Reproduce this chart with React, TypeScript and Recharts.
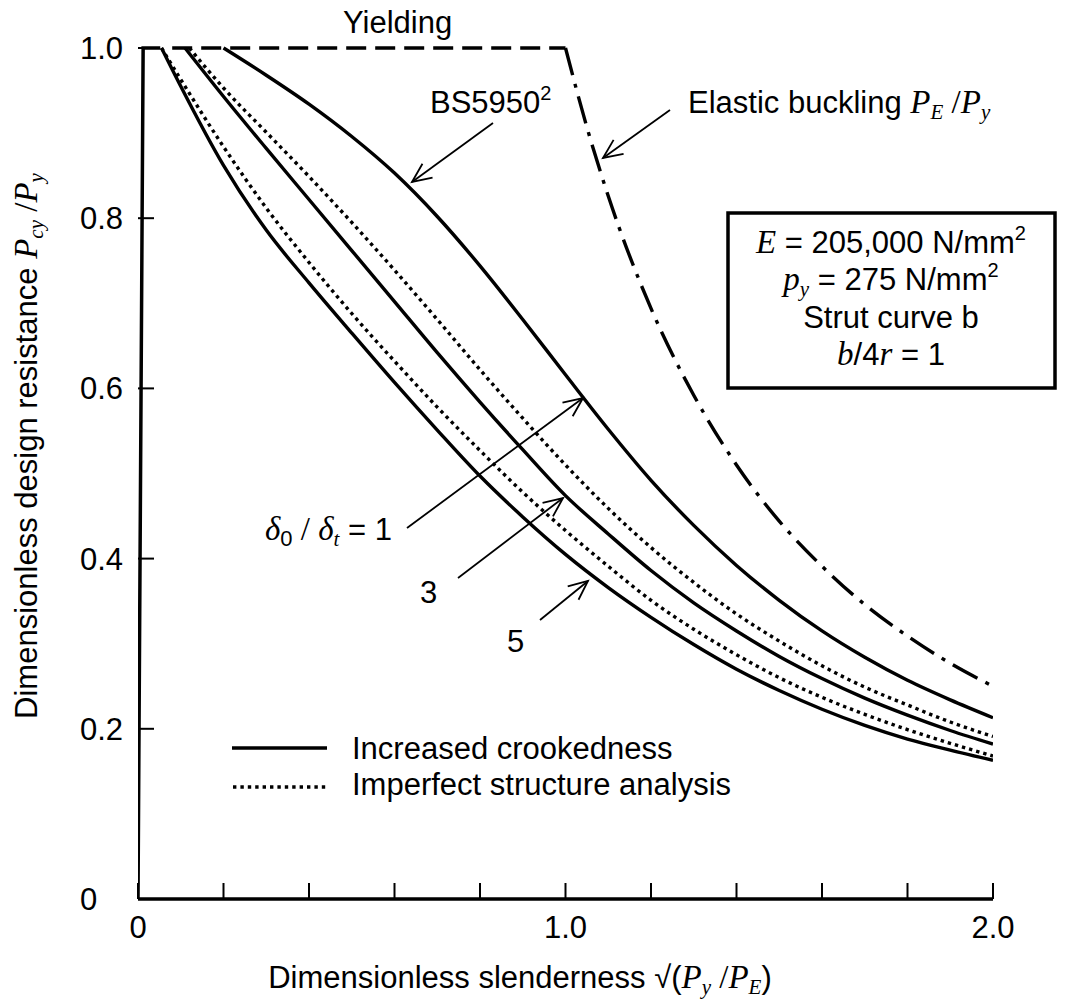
import React from 'react';
import { LineChart, Line, XAxis, YAxis } from 'recharts';

// axis ticks
const xTicks = [0, 0.2, 0.4, 0.6, 0.8, 1.0, 1.2, 1.4, 1.6, 1.8, 2.0];
const xTickLabels: Record<number, string> = { 0: '0', 10: '1.0', 20: '2.0' };
const yTicks = [0, 0.2, 0.4, 0.6, 0.8, 1.0];
const yTickLabels = ['0', '0.2', '0.4', '0.6', '0.8', '1.0'];

// [slenderness, Pcy/Py]
const squashLine = [[0, 0], [0.012, 1.0], [0.052, 1.0]];
const yielding = [[0.08, 1.0], [1.0, 1.0]];
const elasticBuckling = [
  [1.0, 1.0], [1.05, 0.907], [1.1, 0.826], [1.2, 0.694], [1.3, 0.592], [1.4, 0.51],
  [1.5, 0.444], [1.6, 0.391], [1.7, 0.346], [1.8, 0.309], [1.9, 0.277], [2.0, 0.25],
];
const bs5950 = [
  [0.2, 1.0], [0.3, 0.968], [0.4, 0.934], [0.5, 0.896], [0.6, 0.853], [0.7, 0.802],
  [0.8, 0.744], [0.9, 0.681], [1.0, 0.616], [1.1, 0.552], [1.2, 0.492], [1.3, 0.439],
  [1.4, 0.392], [1.5, 0.351], [1.6, 0.315], [1.7, 0.284], [1.8, 0.257], [1.9, 0.234], [2.0, 0.213],
];
const crooked3 = [
  [0.11, 1.0], [0.2, 0.943], [0.3, 0.882], [0.4, 0.822], [0.5, 0.762], [0.6, 0.702],
  [0.7, 0.642], [0.8, 0.584], [0.9, 0.528], [1.0, 0.474], [1.1, 0.429], [1.2, 0.386],
  [1.3, 0.348], [1.4, 0.315], [1.5, 0.285], [1.6, 0.259], [1.7, 0.236], [1.8, 0.216],
  [1.9, 0.198], [2.0, 0.182],
];
const imperfect3 = [
  [0.12, 1.0], [0.2, 0.953], [0.3, 0.901], [0.4, 0.849], [0.5, 0.795], [0.6, 0.739],
  [0.7, 0.681], [0.8, 0.622], [0.9, 0.565], [1.0, 0.51], [1.1, 0.459], [1.2, 0.413],
  [1.3, 0.372], [1.4, 0.335], [1.5, 0.303], [1.6, 0.274], [1.7, 0.249], [1.8, 0.228],
  [1.9, 0.208], [2.0, 0.191],
];
const crooked5 = [
  [0.055, 1.0], [0.1, 0.955], [0.2, 0.862], [0.3, 0.786], [0.4, 0.724], [0.5, 0.665],
  [0.6, 0.607], [0.7, 0.551], [0.8, 0.497], [0.9, 0.449], [1.0, 0.405], [1.1, 0.366],
  [1.2, 0.331], [1.3, 0.299], [1.4, 0.27], [1.5, 0.245], [1.6, 0.223], [1.7, 0.204],
  [1.8, 0.188], [1.9, 0.175], [2.0, 0.163],
];
const imperfect5 = [
  [0.055, 1.0], [0.1, 0.963], [0.2, 0.884], [0.3, 0.812], [0.4, 0.748], [0.5, 0.688],
  [0.6, 0.632], [0.7, 0.578], [0.8, 0.527], [0.9, 0.478], [1.0, 0.433], [1.1, 0.391],
  [1.2, 0.351], [1.3, 0.317], [1.4, 0.287], [1.5, 0.26], [1.6, 0.237], [1.7, 0.217],
  [1.8, 0.199], [1.9, 0.183], [2.0, 0.168],
];

const toPoints = (pairs: number[][]) => pairs.map(([x, y]) => ({ x, y }));

const SANS = '"Liberation Sans", Arial, sans-serif';
const SERIF = '"Liberation Serif", "Times New Roman", serif';
const FS = 31;

const XTick = (props: any) => {
  const { x, payload } = props;
  const label = xTickLabels[Math.round(payload.value * 10)];
  if (!label) return null;
  return (
    <text x={x} y={938} textAnchor="middle" fontFamily={SANS} fontSize={FS} fill="#000">
      {label}
    </text>
  );
};

const YTick = (props: any) => {
  const { y, index } = props;
  return (
    <text x={80} y={y + 11} textAnchor="start" fontFamily={SANS} fontSize={FS} fill="#000">
      {yTickLabels[index]}
    </text>
  );
};

function Arrow({ from, to }: { from: [number, number]; to: [number, number] }) {
  const a = Math.atan2(to[1] - from[1], to[0] - from[0]);
  const L = 21;
  const s = 0.42;
  const p1 = [to[0] - L * Math.cos(a - s), to[1] - L * Math.sin(a - s)];
  const p2 = [to[0] - L * Math.cos(a + s), to[1] - L * Math.sin(a + s)];
  return (
    <g stroke="#000" strokeWidth={1.8} fill="none">
      <line x1={from[0]} y1={from[1]} x2={to[0]} y2={to[1]} />
      <polyline points={`${p1[0]},${p1[1]} ${to[0]},${to[1]} ${p2[0]},${p2[1]}`} />
    </g>
  );
}

const it = { fontFamily: SERIF, fontStyle: 'italic' as const };

function Annotations() {
  return (
    <svg
      width={1067}
      height={1000}
      style={{ position: 'absolute', left: 0, top: 0, pointerEvents: 'none' }}
    >
      <g fontFamily={SANS} fontSize={FS} fill="#000">
        <text x={343} y={33}>Yielding</text>
        <text x={430} y={113}>
          BS5950<tspan fontSize={20} dy={-13}>2</tspan>
        </text>
        <text x={688} y={113}>
          Elastic buckling <tspan {...it} fontSize={33}>P</tspan>
          <tspan {...it} fontSize={21} dy={6}>E</tspan>
          <tspan fontFamily={SERIF} fontSize={33} dy={-6}> /</tspan>
          <tspan {...it} fontSize={33}>P</tspan>
          <tspan {...it} fontSize={21} dy={6}>y</tspan>
        </text>

        <rect x={728} y={213} width={327} height={175} fill="none" stroke="#000" strokeWidth={3.5} />
        <text x={891} y={253} textAnchor="middle">
          <tspan {...it} fontSize={33}>E</tspan> = 205,000 N/mm<tspan fontSize={20} dy={-13}>2</tspan>
        </text>
        <text x={891} y={290} textAnchor="middle">
          <tspan {...it} fontSize={33}>p</tspan>
          <tspan {...it} fontSize={21} dy={6}>y</tspan>
          <tspan dy={-6}> = 275 N/mm</tspan>
          <tspan fontSize={20} dy={-13}>2</tspan>
        </text>
        <text x={891} y={328} textAnchor="middle">Strut curve b</text>
        <text x={891} y={365} textAnchor="middle">
          <tspan {...it} fontSize={33}>b</tspan>/4<tspan {...it} fontSize={33}>r</tspan> = 1
        </text>

        <text x={265} y={540}>
          <tspan {...it} fontSize={33}>δ</tspan>
          <tspan fontSize={22} dy={6}>0</tspan>
          <tspan fontFamily={SERIF} fontSize={33} dy={-6}> / </tspan>
          <tspan {...it} fontSize={33}>δ</tspan>
          <tspan {...it} fontSize={21} dy={6}>t</tspan>
          <tspan dy={-6}> = 1</tspan>
        </text>
        <text x={420} y={603}>3</text>
        <text x={507} y={652}>5</text>

        <line x1={232} y1={748} x2={327} y2={748} stroke="#000" strokeWidth={3.5} />
        <text x={352} y={759}>Increased crookedness</text>
        <line x1={233} y1={787} x2={328} y2={787} stroke="#000" strokeWidth={3.4} strokeDasharray="3.4 4" />
        <text x={352} y={795}>Imperfect structure analysis</text>

        <text x={520} y={988} textAnchor="middle">
          Dimensionless slenderness √(<tspan {...it} fontSize={33}>P</tspan>
          <tspan {...it} fontSize={21} dy={6}>y</tspan>
          <tspan fontFamily={SERIF} fontSize={33} dy={-6}> /</tspan>
          <tspan {...it} fontSize={33}>P</tspan>
          <tspan {...it} fontSize={21} dy={6}>E</tspan>
          <tspan dy={-6}>)</tspan>
        </text>

        <text transform="rotate(-90)" x={-446} y={37} textAnchor="middle">
          Dimensionless design resistance <tspan {...it} fontSize={33}>P</tspan>
          <tspan {...it} fontSize={21} dy={6}>cy</tspan>
          <tspan fontFamily={SERIF} fontSize={33} dy={-6}> /</tspan>
          <tspan {...it} fontSize={33}>P</tspan>
          <tspan {...it} fontSize={21} dy={6}>y</tspan>
        </text>
      </g>

      <Arrow from={[493, 123]} to={[412, 182]} />
      <Arrow from={[670, 110]} to={[603, 158]} />
      <Arrow from={[407, 528]} to={[583, 398]} />
      <Arrow from={[458, 578]} to={[563, 498]} />
      <Arrow from={[540, 620]} to={[588, 581]} />
    </svg>
  );
}

const solid = { stroke: '#000', strokeWidth: 3.4, dot: false, activeDot: false, isAnimationActive: false } as const;

export default function App() {
  return (
    <div style={{ position: 'absolute', left: 0, top: 0, width: 1067, height: 1000, background: '#fff' }}>
      <LineChart width={1067} height={1000} margin={{ top: 48, right: 74, bottom: 71, left: 88 }}>
        <XAxis
          type="number"
          dataKey="x"
          domain={[0, 2]}
          ticks={xTicks}
          height={30}
          tickSize={-16}
          axisLine={{ stroke: '#000', strokeWidth: 3.5 }}
          tickLine={{ stroke: '#000', strokeWidth: 2 }}
          tick={<XTick />}
          interval={0}
          allowDataOverflow
        />
        <YAxis
          type="number"
          domain={[0, 1]}
          ticks={yTicks}
          width={50}
          tickSize={-16}
          axisLine={false}
          tickLine={{ stroke: '#000', strokeWidth: 2 }}
          tick={<YTick />}
          interval={0}
        />
        <Line data={toPoints(squashLine)} dataKey="y" type="linear" {...solid} strokeWidth={3.5} />
        <Line data={toPoints(yielding)} dataKey="y" type="linear" {...solid} strokeDasharray="20 9" />
        <Line data={toPoints(elasticBuckling)} dataKey="y" type="monotone" {...solid} strokeDasharray="28 9 4 9" />
        <Line data={toPoints(bs5950)} dataKey="y" type="monotone" {...solid} />
        <Line data={toPoints(imperfect3)} dataKey="y" type="monotone" {...solid} strokeDasharray="3.4 4" />
        <Line data={toPoints(crooked3)} dataKey="y" type="monotone" {...solid} />
        <Line data={toPoints(imperfect5)} dataKey="y" type="monotone" {...solid} strokeDasharray="3.4 4" />
        <Line data={toPoints(crooked5)} dataKey="y" type="monotone" {...solid} />
      </LineChart>
      <Annotations />
    </div>
  );
}
